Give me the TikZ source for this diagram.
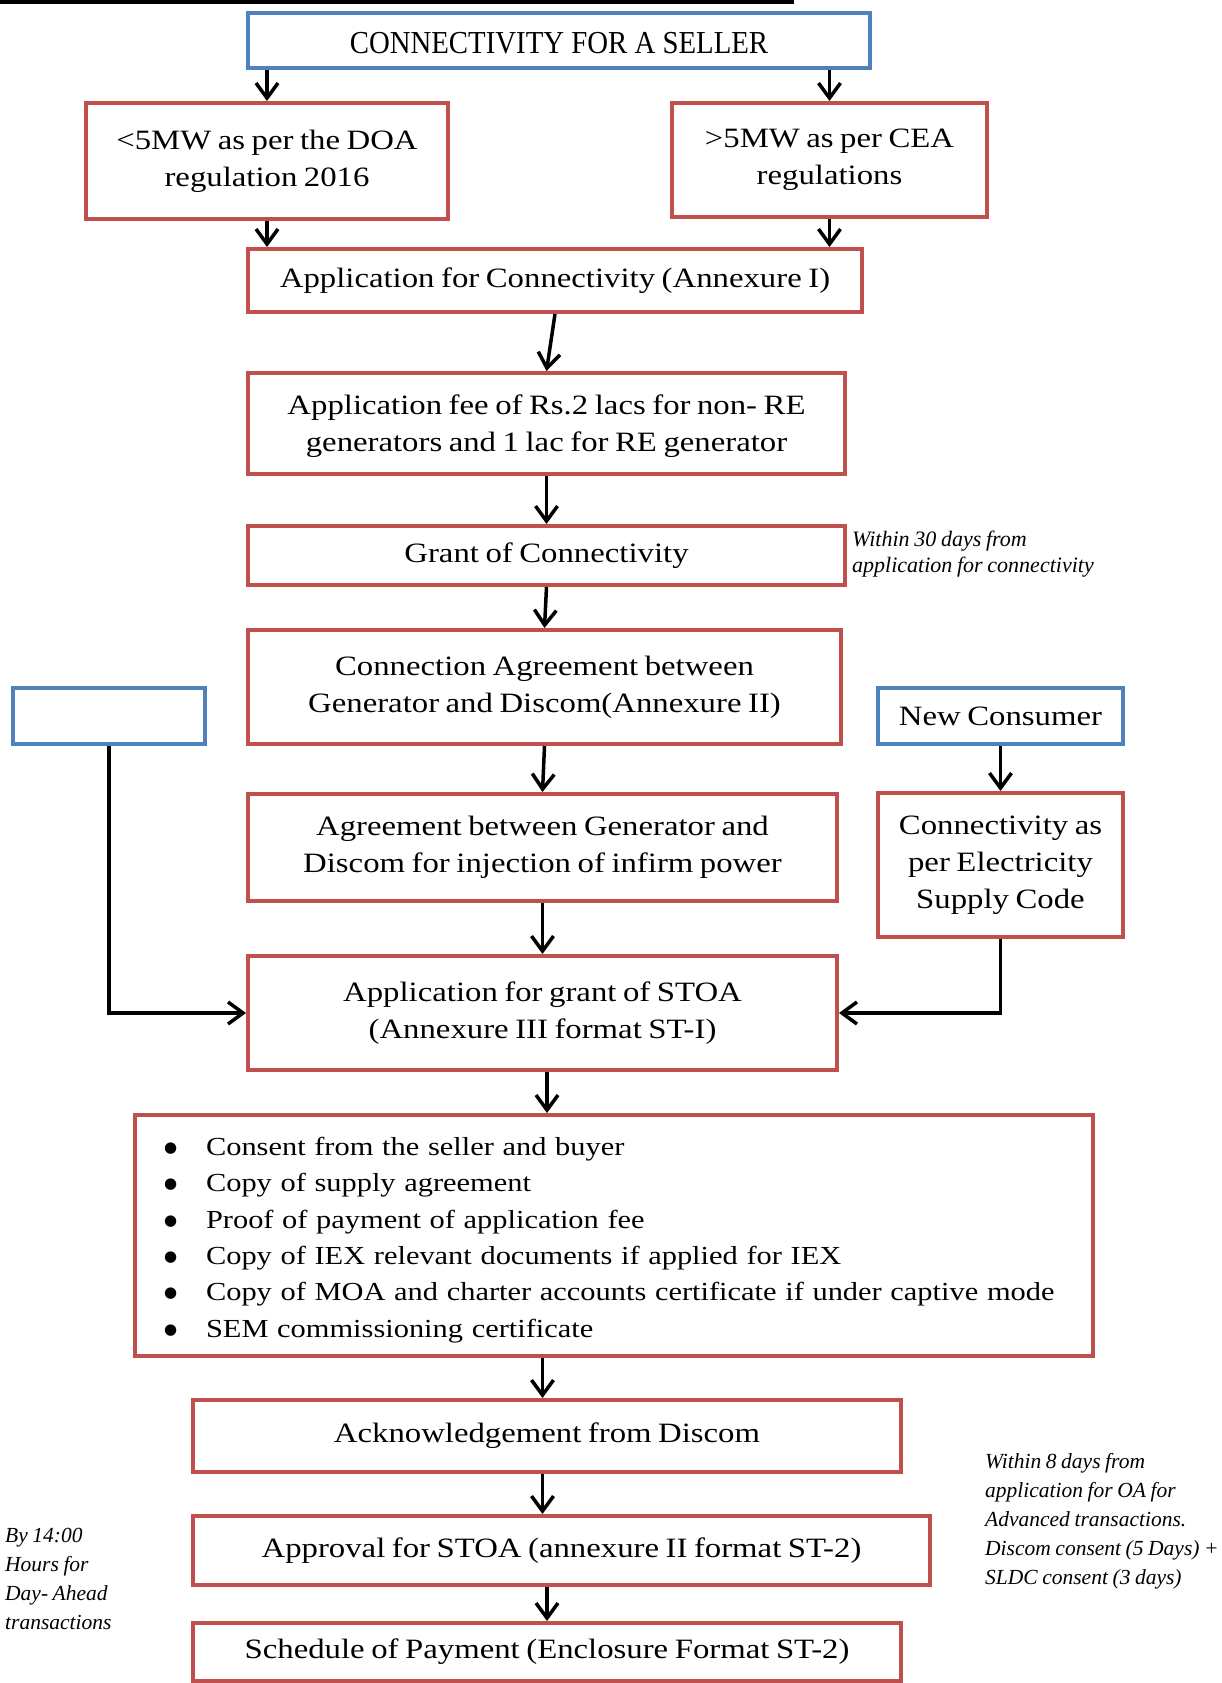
\documentclass[tikz,border=0pt]{standalone}
\usepackage{fontspec}
\setmainfont[FakeStretch=1.17, WordSpace=0.8]{Liberation Serif}
\newfontfamily\condfont[FakeStretch=0.9]{Liberation Serif}
\newfontfamily\notefont[WordSpace=0.85]{Liberation Serif}
\newfontfamily\dotfont{DejaVu Sans}
\usetikzlibrary{arrows.meta}

\definecolor{boxred}{RGB}{192,80,77}
\definecolor{boxblue}{RGB}{79,129,189}

\newcommand{\bitem}{\makebox[42pt][l]{\raisebox{3pt}{\dotfont\fontsize{15}{36}\selectfont ●}}}

\tikzset{
  redbox/.style={draw=boxred, line width=4pt, align=center, inner sep=0pt,
    font=\fontsize{28}{37}\selectfont},
  bluebox/.style={draw=boxblue, line width=4pt, align=center, inner sep=0pt,
    font=\fontsize{28}{37}\selectfont},
  note/.style={anchor=north west, align=left, inner sep=0pt,
    font=\notefont\itshape\fontsize{21.5}{29}\selectfont},
  arr/.style={line width=3.5pt, -{Straight Barb[length=15pt,width=22pt,line width=3.5pt]}}
}

\begin{document}
\begin{tikzpicture}[x=1pt, y=-1pt]
    \useasboundingbox (0,0) rectangle (1221,1683);
    \fill[black] (0,0) rectangle (794,4);

    % boxes
    \node[bluebox, minimum width=622, minimum height=55, text height=27pt] (seller) at (559,40.5) {\condfont\fontsize{32}{37}\selectfont CONNECTIVITY FOR A SELLER};
    \node[redbox, minimum width=362, minimum height=116] (doa) at (267,161) {<5MW as per the DOA\\regulation 2016};
    \node[redbox, minimum width=315, minimum height=114] (cea) at (829.5,160) {>5MW as per CEA\\regulations};
    \node[redbox, minimum width=614, minimum height=63] (appcon) at (555,280.5) {Application for Connectivity (Annexure I)};
    \node[redbox, minimum width=597, minimum height=101] (fee) at (546.5,423.5) {\rule{0pt}{26pt}Application fee of Rs.2 lacs for non- RE\\generators and 1 lac for RE generator};
    \node[redbox, minimum width=597, minimum height=59] (grant) at (546.5,555.5) {Grant of Connectivity};
    \node[redbox, minimum width=593, minimum height=114] (connagr) at (544.5,687) {Connection Agreement between\\Generator and Discom(Annexure II)};
    \node[bluebox, minimum width=192, minimum height=56] (blank) at (109,716) {};
    \node[bluebox, minimum width=245, minimum height=56] (newcons) at (1000.5,716) {New Consumer};
    \node[redbox, minimum width=589, minimum height=107] (infirm) at (542.5,847.5) {Agreement between Generator and\\Discom for injection of infirm power};
    \node[redbox, minimum width=245, minimum height=144] (esc) at (1000.5,865) {Connectivity as\\per Electricity\\Supply Code};
    \node[redbox, minimum width=589, minimum height=114] (stoa) at (542.5,1013) {Application for grant of STOA\\(Annexure III format ST-I)};
    \node[redbox, minimum width=958, minimum height=241, align=left, text width=900pt,
          font=\fontsize{26}{36.4}\selectfont] (docs) at (614,1235.5) {%
      \rule{0pt}{27pt}\bitem Consent from the seller and buyer\\
      \bitem Copy of supply agreement\\
      \bitem Proof of payment of application fee\\
      \bitem Copy of IEX relevant documents if applied for IEX\\
      \bitem Copy of MOA and charter accounts certificate if under captive mode\\
      \bitem SEM commissioning certificate};
    \node[redbox, minimum width=708, minimum height=72] (ack) at (547,1436) {Acknowledgement from Discom};
    \node[redbox, minimum width=737, minimum height=69] (approval) at (561.5,1550.5) {Approval for STOA (annexure II format ST-2)};
    \node[redbox, minimum width=708, minimum height=58] (sched) at (547,1652) {Schedule of Payment (Enclosure Format ST-2)};

    % notes
    \node[note, font=\notefont\itshape\fontsize{22}{26}\selectfont] (n30) at (852,531) {Within 30 days from\\application for connectivity};
    \node[note] (n8) at (985,1453) {Within 8 days from\\application for OA for\\Advanced transactions.\\Discom consent (5 Days) +\\SLDC consent (3 days)};
    \node[note] (n14) at (5,1528) {By 14:00\\Hours for\\Day- Ahead\\transactions};

    % arrows
    \draw[arr] (doa.north |- seller.south) -- (doa.north);
    \draw[arr] (cea.north |- seller.south) -- (cea.north);
    \draw[arr] (doa.south) -- (doa.south |- appcon.north);
    \draw[arr] (cea.south) -- (cea.south |- appcon.north);
    \draw[arr] (appcon.south) -- (fee.north);
    \draw[arr] (fee.south) -- (grant.north);
    \draw[arr] (grant.south) -- (connagr.north);
    \draw[arr] (connagr.south) -- (infirm.north);
    \draw[arr] (infirm.south) -- (stoa.north);
    \draw[arr] (newcons.south) -- (esc.north);
    \draw[arr] (blank.south) |- (stoa.west);
    \draw[arr] (esc.south) |- (stoa.east);
    \draw[arr] (ack.north |- stoa.south) -- (ack.north |- docs.north);
    \draw[arr] (stoa.south |- docs.south) -- (stoa.south |- ack.north);
    \draw[arr] (stoa.south |- ack.south) -- (stoa.south |- approval.north);
    \draw[arr] (sched.north |- approval.south) -- (sched.north);
\end{tikzpicture}
\end{document}
